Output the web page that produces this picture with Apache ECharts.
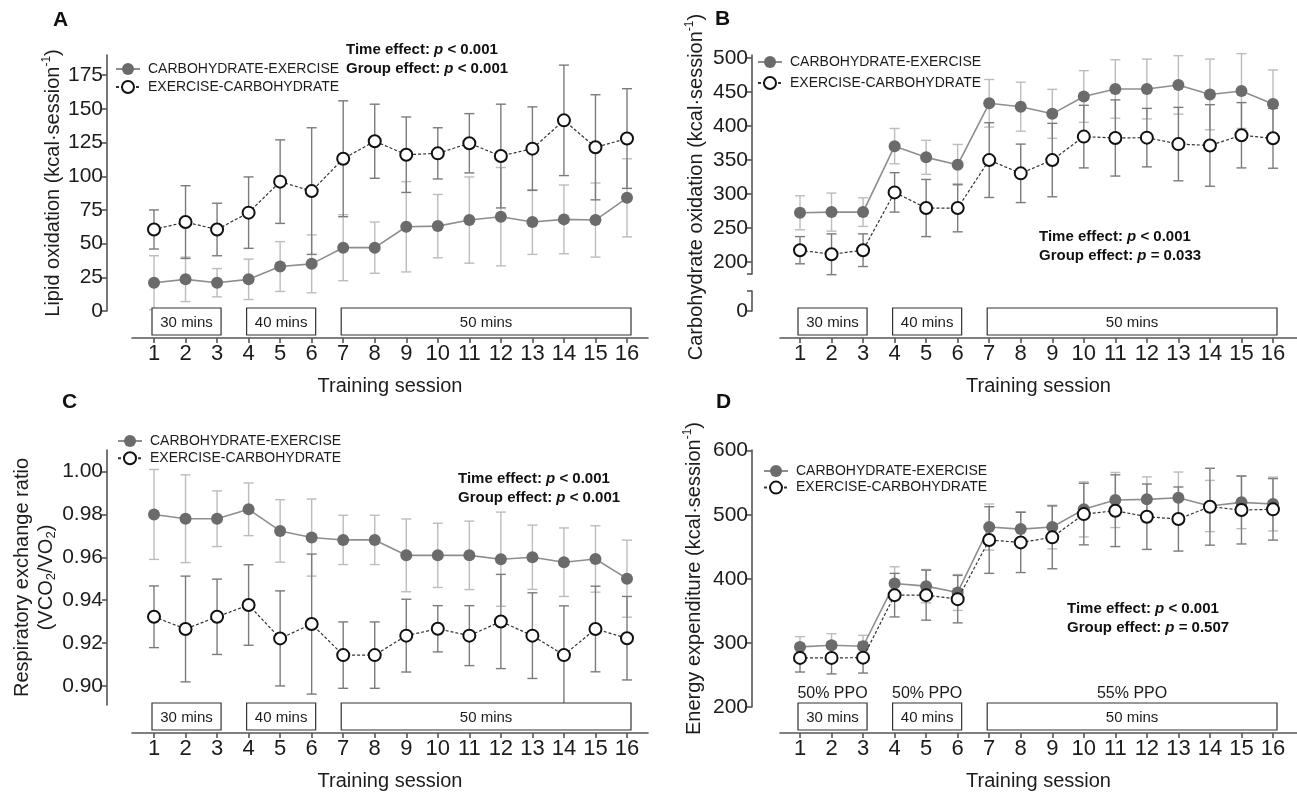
<!DOCTYPE html>
<html>
<head>
<meta charset="utf-8">
<title>Substrate oxidation across training sessions</title>
<script src="https://cdn.jsdelivr.net/npm/echarts@6.0.0/dist/echarts.min.js"></script>
<style>
  html, body { margin: 0; padding: 0; background: #fff; }
  #chart { width: 1297px; height: 794px; }
</style>
</head>
<body>
<div id="chart"></div>
<script>
// ---- values: mean and SD for each training session ----
const sessions = [1, 2, 3, 4, 5, 6, 7, 8, 9, 10, 11, 12, 13, 14, 15, 16];
const seriesNames = ['CARBOHYDRATE-EXERCISE', 'EXERCISE-CARBOHYDRATE'];

// A - lipid oxidation (kcal/session)
const lipidCE = [21, 23.5, 21, 23.5, 33, 35, 47, 47, 62.5, 63, 67.5, 70, 66, 68, 67.5, 84];
const lipidCESd = [20, 16.5, 10.5, 15, 18.5, 21.5, 24.5, 19, 33.5, 23.5, 32, 36.5, 24, 25.5, 27.5, 29];
const lipidEC = [60.5, 66, 60.5, 73, 96, 89, 113, 126, 116, 117, 124.5, 115, 120.5, 141.5, 121.5, 128];
const lipidECSd = [14.5, 27, 19.5, 26.5, 31, 47, 43, 27.5, 28, 19, 22, 38.5, 31, 41, 39, 37];

// B - carbohydrate oxidation (kcal/session)
const choCE = [272, 273, 273, 370, 353.5, 342.5, 433, 428, 417.5, 443, 454, 454, 460, 446, 451, 432];
const choCESd = [25, 28, 21, 26, 25, 30, 35, 36, 36, 38, 43, 44, 43, 52, 55, 50];
const choEC = [217, 211, 217, 302, 279, 279, 349.5, 330, 349.5, 384, 382, 382.5, 373, 371, 386, 381.5];
const choECSd = [20, 30, 24, 29, 42, 35, 55, 43, 54, 46, 56, 43, 54, 60, 48, 44];

// C - respiratory exchange ratio
const rerCE = [0.980, 0.978, 0.978, 0.9824, 0.9723, 0.9692, 0.9681, 0.9681, 0.9609, 0.9609, 0.9609, 0.9591, 0.960, 0.9577, 0.9592, 0.950];
const rerCESd = [0.021, 0.0205, 0.013, 0.0123, 0.0146, 0.018, 0.0115, 0.0115, 0.017, 0.015, 0.016, 0.022, 0.015, 0.016, 0.0155, 0.018];
const rerEC = [0.9322, 0.9265, 0.9322, 0.9377, 0.9221, 0.9288, 0.9143, 0.9143, 0.9234, 0.9266, 0.9234, 0.930, 0.9234, 0.9143, 0.9265, 0.9222];
const rerECSd = [0.0144, 0.0247, 0.0176, 0.0188, 0.0222, 0.0327, 0.0155, 0.0155, 0.017, 0.0108, 0.014, 0.022, 0.020, 0.023, 0.020, 0.0195];

// D - energy expenditure (kcal/session)
const eeCE = [293.8, 296.4, 294.8, 392.8, 388.6, 378.7, 480.8, 477.6, 480.8, 508.4, 523, 524, 526.6, 513.6, 519.3, 516.7];
const eeCESd = [16, 18, 17, 26, 26, 28, 36, 27, 34, 43, 43, 35, 40, 40, 41, 42];
const eeEC = [276.6, 276.6, 277, 374.5, 374.5, 368.3, 460.5, 456.8, 464.7, 501, 506.3, 496.9, 493.3, 512.5, 507.4, 508.4];
const eeECSd = [22, 25, 24, 34, 39, 37, 52, 47, 49, 48, 56, 51, 50, 60, 53, 48];

// session blocks and their labels
const durationBlocks = [[1, 3], [4, 6], [7, 16]];
const durationLabels = ['30 mins', '40 mins', '50 mins'];
const intensityLabels = ['50% PPO', '50% PPO', '55% PPO'];

// tick labels
const lipidTicks = [0, 25, 50, 75, 100, 125, 150, 175];
const choTicks = [200, 250, 300, 350, 400, 450, 500];
const rerTicks = [0.90, 0.92, 0.94, 0.96, 0.98, 1.00];
const eeTicks = [200, 300, 400, 500, 600];

// p values of the two-way ANOVA, panels A-D
const timeP = ['< 0.001', '< 0.001', '< 0.001', '< 0.001'];
const groupP = ['< 0.001', '= 0.033', '< 0.001', '= 0.507'];

// ---- styles ----
const FONT = '"Liberation Sans", Arial, sans-serif';
const TEXT = '#1c1c1c';
const AXIS = '#555';
const CE_FILL = '#6b6b6b';
const CE_LINE = '#8e8e8e';
const CE_ERR = '#bcbcbc';
const EC_LINE = '#333';
const EC_ERR = '#7b7b7b';

// x axes: sessions 1..16 with the line running a bit past both ends
function xAxisFor (grid, min, max, offset, show) {
  return {
    type: 'value', gridIndex: grid, min: min, max: max, offset: offset, show: show,
    axisLine: { onZero: false, lineStyle: { color: AXIS, width: 1.6 } },
    axisTick: { length: 5, customValues: sessions, lineStyle: { color: AXIS, width: 1.6 } },
    axisLabel: { customValues: sessions, margin: 5, fontSize: 22, color: TEXT, fontFamily: FONT },
    splitLine: { show: false },
    name: 'Training session', nameLocation: 'middle', nameGap: 38,
    nameTextStyle: { fontSize: 20, color: TEXT, fontFamily: FONT }
  };
}

function yAxisFor (grid, min, max, ticks, labels, digits, name, nameGap, nameStyle) {
  return {
    type: 'value', gridIndex: grid, min: min, max: max, offset: grid === 0 || grid === 3 ? 25 : 28,
    axisLine: { onZero: false, lineStyle: { color: AXIS, width: 1.6 } },
    axisTick: { length: 5, customValues: ticks, lineStyle: { color: AXIS, width: 1.6 } },
    axisLabel: {
      customValues: labels, margin: 4, fontSize: 21, color: TEXT, fontFamily: FONT,
      formatter: v => v.toFixed(digits)
    },
    splitLine: { show: false },
    name: name, nameLocation: 'middle', nameGap: nameGap, nameRotate: 90,
    nameTextStyle: Object.assign({
      color: TEXT, fontFamily: FONT,
      rich: {
        n: { fontSize: 20, lineHeight: 24, fontFamily: FONT, color: TEXT, verticalAlign: 'middle' },
        sup: { fontSize: 12, lineHeight: 12, fontFamily: FONT, color: TEXT, verticalAlign: 'top' },
        sub: { fontSize: 13, lineHeight: 13, fontFamily: FONT, color: TEXT, verticalAlign: 'bottom' }
      }
    }, nameStyle || {})
  };
}

// mean +/- SD whiskers
function errorBars (grid, means, sds, color) {
  return {
    type: 'custom', xAxisIndex: grid, yAxisIndex: grid, silent: true, z: 2,
    data: sessions.map((s, i) => [s, means[i] - sds[i], means[i] + sds[i]]),
    renderItem: function (params, api) {
      const lo = api.coord([api.value(0), api.value(1)]);
      const hi = api.coord([api.value(0), api.value(2)]);
      const cap = 5;
      const st = { stroke: color, lineWidth: 1.4 };
      return {
        type: 'group',
        children: [
          { type: 'line', shape: { x1: lo[0], y1: lo[1], x2: hi[0], y2: hi[1] }, style: st },
          { type: 'line', shape: { x1: lo[0] - cap, y1: lo[1], x2: lo[0] + cap, y2: lo[1] }, style: st },
          { type: 'line', shape: { x1: hi[0] - cap, y1: hi[1], x2: hi[0] + cap, y2: hi[1] }, style: st }
        ]
      };
    }
  };
}

function meanLine (grid, name, means, open) {
  return {
    type: 'line', name: name, xAxisIndex: grid, yAxisIndex: grid, z: open ? 4 : 3,
    data: sessions.map((s, i) => [s, means[i]]),
    symbol: 'circle', symbolSize: 12,
    lineStyle: open ? { color: EC_LINE, width: 1.2, type: [3, 2] } : { color: CE_LINE, width: 1.6 },
    itemStyle: open ? { color: '#fff', borderColor: '#111', borderWidth: 2 } : { color: CE_FILL, borderWidth: 0 },
    emphasis: { disabled: true },
    animation: false
  };
}

// boxes with the session duration, sitting just above the x axis line
function sessionBoxes (grid, base, axisOffset, withIntensity) {
  return {
    type: 'custom', xAxisIndex: grid, yAxisIndex: grid, silent: true, z: 2,
    data: durationBlocks,
    renderItem: function (params, api) {
      const a = api.coord([api.value(0), base]);
      const b = api.coord([api.value(1), base]);
      const axisY = a[1] + axisOffset;
      const x0 = a[0] - 2;
      const x1 = b[0] + 4;
      const top = axisY - 30;
      const h = 27;
      const children = [
        { type: 'rect', shape: { x: x0, y: top, width: x1 - x0, height: h }, style: { fill: '#fff', stroke: '#333', lineWidth: 1.2 } },
        {
          type: 'text', x: (x0 + x1) / 2, y: top + h / 2 + 1,
          style: { text: durationLabels[params.dataIndex], align: 'center', verticalAlign: 'middle', fontSize: 15, fill: TEXT, fontFamily: FONT }
        }
      ];
      if (withIntensity) {
        children.push({
          type: 'text', x: (x0 + x1) / 2, y: top - 9,
          style: { text: intensityLabels[params.dataIndex], align: 'center', verticalAlign: 'middle', fontSize: 16, fill: TEXT, fontFamily: FONT }
        });
      }
      return { type: 'group', children: children };
    }
  };
}

function legendAt (left, top, gap) {
  return {
    data: seriesNames, left: left, top: top, orient: 'vertical', itemGap: gap, padding: 0,
    itemWidth: 24, itemHeight: 15, selectedMode: false,
    textStyle: { fontSize: 14, lineHeight: 14, color: TEXT, fontFamily: FONT, padding: [0, 0, 0, 3] }
  };
}

function panelLetter (text, x, y) {
  return { type: 'text', x: x, y: y, style: { text: text, fontSize: 21, fontWeight: 'bold', fill: '#111', fontFamily: FONT } };
}

function effectNote (x, y, i) {
  return {
    type: 'text', x: x, y: y,
    style: {
      text: '{b|Time effect: }{i|p}{b| ' + timeP[i] + '}\n{b|Group effect: }{i|p}{b| ' + groupP[i] + '}',
      fill: '#111', fontFamily: FONT,
      rich: {
        b: { fontSize: 15, fontWeight: 'bold', lineHeight: 19.5, fontFamily: FONT, fill: '#111' },
        i: { fontSize: 15, fontWeight: 'bold', fontStyle: 'italic', lineHeight: 19.5, fontFamily: FONT, fill: '#111' }
      }
    }
  };
}

const chart = echarts.init(document.getElementById('chart'), null, { renderer: 'canvas' });

const lipidName = '{n|Lipid oxidation (kcal·session}{sup|-1}{n|)}';
const choName = '{n|Carbohydrate oxidation (kcal·session}{sup|-1}{n|)}';
const rerName = '{n|Respiratory exchange ratio}\n{n|(VCO}{sub|2}{n|/VO}{sub|2}{n|)}';
const eeName = '{n|Energy expenditure (kcal·session}{sup|-1}{n|)}';

const option = {
  backgroundColor: '#fff',
  animation: false,
  textStyle: { fontFamily: FONT },
  grid: [
    { left: 132, top: 55, width: 516, height: 256 },   // A
    { left: 780, top: 55, width: 517, height: 219 },   // B upper part
    { left: 780, top: 291, width: 517, height: 20 },   // B below the break
    { left: 132, top: 450, width: 516, height: 255 },  // C
    { left: 780, top: 450, width: 517, height: 257 }   // D
  ],
  xAxis: [
    xAxisFor(0, 0.3023, 16.666, 27, true),
    xAxisFor(1, 0.3657, 16.761, 0, false),
    xAxisFor(2, 0.3657, 16.761, 27, true),
    xAxisFor(3, 0.3023, 16.666, 28, true),
    xAxisFor(4, 0.3657, 16.761, 26, true)
  ],
  yAxis: [
    yAxisFor(0, 0, 190, lipidTicks, lipidTicks, 0, lipidName, 42),
    yAxisFor(1, 182, 504, [182].concat(choTicks), choTicks, 0, choName, 44, { padding: [0, 45, 0, 0] }),
    Object.assign(yAxisFor(2, 0, 29.4, [0, 29.4], [0], 0, '', 0), { name: '' }),
    yAxisFor(3, 0.891, 1.0101, rerTicks, rerTicks, 2, rerName, 40),
    yAxisFor(4, 200, 601, eeTicks, eeTicks, 0, eeName, 46)
  ],
  legend: [
    legendAt(115, 62, 4),
    legendAt(757, 55, 7),
    legendAt(117, 434, 3.3),
    legendAt(763, 464, 2.6)
  ],
  graphic: [
    panelLetter('A', 53, 10),
    panelLetter('B', 715, 9),
    panelLetter('C', 62, 392),
    panelLetter('D', 716, 392),
    effectNote(346, 40, 0),
    effectNote(1039, 227, 1),
    effectNote(458, 469, 2),
    effectNote(1067, 599, 3)
  ],
  series: [
    // A
    errorBars(0, lipidCE, lipidCESd, CE_ERR),
    errorBars(0, lipidEC, lipidECSd, EC_ERR),
    meanLine(0, seriesNames[0], lipidCE, false),
    meanLine(0, seriesNames[1], lipidEC, true),
    sessionBoxes(0, 0, 27, false),
    // B
    errorBars(1, choCE, choCESd, CE_ERR),
    errorBars(1, choEC, choECSd, EC_ERR),
    meanLine(1, seriesNames[0], choCE, false),
    meanLine(1, seriesNames[1], choEC, true),
    sessionBoxes(2, 0, 27, false),
    // C
    errorBars(3, rerCE, rerCESd, CE_ERR),
    errorBars(3, rerEC, rerECSd, EC_ERR),
    meanLine(3, seriesNames[0], rerCE, false),
    meanLine(3, seriesNames[1], rerEC, true),
    sessionBoxes(3, 0.891, 28, false),
    // D
    errorBars(4, eeCE, eeCESd, CE_ERR),
    errorBars(4, eeEC, eeECSd, EC_ERR),
    meanLine(4, seriesNames[0], eeCE, false),
    meanLine(4, seriesNames[1], eeEC, true),
    sessionBoxes(4, 200, 26, true)
  ]
};

chart.setOption(option);
</script>
</body>
</html>
